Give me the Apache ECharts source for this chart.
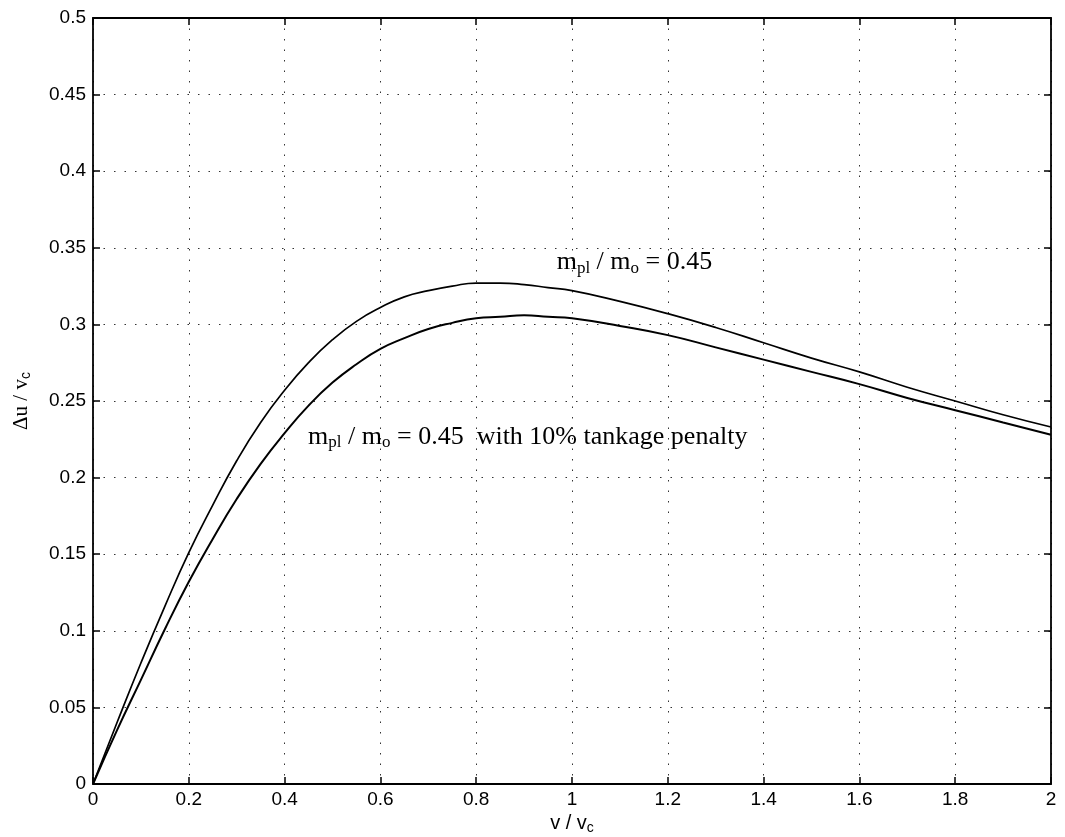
<!DOCTYPE html>
<html>
<head>
<meta charset="utf-8">
<script src="https://cdn.jsdelivr.net/npm/echarts@6/dist/echarts.min.js"></script>
<style>
  html, body { margin: 0; padding: 0; background: #fff; }
  #chart { width: 1065px; height: 837px; }
</style>
</head>
<body>
<div id="chart"></div>
<script>
// v / vc sample points
const vRatio = [0, 0.05, 0.1, 0.15, 0.2, 0.25, 0.3, 0.35, 0.4, 0.45, 0.5, 0.55, 0.6, 0.65, 0.7, 0.75,
  0.8, 0.85, 0.9, 0.95, 1.0, 1.1, 1.2, 1.3, 1.4, 1.5, 1.6, 1.7, 1.8, 1.9, 2.0];

// Δu / vc, payload fraction 0.45
const duPayload = [0, 0.040, 0.079, 0.116, 0.151, 0.182, 0.211, 0.236, 0.257, 0.275, 0.290, 0.302,
  0.311, 0.318, 0.322, 0.325, 0.327, 0.327, 0.326, 0.324, 0.322, 0.315, 0.307, 0.298, 0.288,
  0.278, 0.269, 0.259, 0.250, 0.241, 0.233];

// Δu / vc, payload fraction 0.45 with 10% tankage penalty
const duTankage = [0, 0.035, 0.068, 0.101, 0.132, 0.160, 0.186, 0.209, 0.229, 0.247, 0.262, 0.274,
  0.284, 0.291, 0.297, 0.301, 0.304, 0.305, 0.306, 0.305, 0.304, 0.299, 0.293, 0.285, 0.277,
  0.269, 0.261, 0.252, 0.244, 0.236, 0.228];

const xTicks = [0, 0.2, 0.4, 0.6, 0.8, 1, 1.2, 1.4, 1.6, 1.8, 2];
const yTicks = [0, 0.05, 0.1, 0.15, 0.2, 0.25, 0.3, 0.35, 0.4, 0.45, 0.5];

const upperLabel = { x: 0.968, y: 0.338 };
const lowerLabel = { x: 0.449, y: 0.224 };

const pairs = (xs, ys) => xs.map((x, i) => [x, ys[i]]);

const sans = 'Liberation Sans, Arial, sans-serif';
const serif = 'Liberation Serif, Times New Roman, serif';

const gridDots = { show: true, lineStyle: { color: '#333', width: 1, type: [1.5, 9] } };
const frame = { show: true, onZero: false, lineStyle: { color: '#000', width: 1.8 } };
const tickIn = { show: true, inside: true, length: 7, lineStyle: { color: '#000', width: 1.5 } };

const chart = echarts.init(document.getElementById('chart'), null, { renderer: 'canvas' });

chart.setOption({
  backgroundColor: '#fff',
  animation: false,
  grid: { left: 93, right: 14, top: 18, bottom: 53, containLabel: false, outerBoundsMode: 'none' },
  xAxis: [{
    type: 'value', min: 0, max: 2, interval: 0.2,
    name: '{n|v / v}{s|c}', nameLocation: 'middle', nameGap: 26,
    nameTextStyle: {
      rich: {
        n: { fontFamily: sans, fontSize: 20, color: '#000' },
        s: { fontFamily: sans, fontSize: 14, color: '#000', padding: [9, 0, 0, 0] }
      }
    },
    axisLine: frame, axisTick: tickIn, splitLine: gridDots,
    axisLabel: {
      color: '#000', fontFamily: sans, fontSize: 19, margin: 6,
      formatter: v => String(+v.toFixed(2))
    }
  }, {
    type: 'value', min: 0, max: 2, interval: 0.2, position: 'top',
    axisLine: frame, axisTick: tickIn, splitLine: { show: false }, axisLabel: { show: false }
  }],
  yAxis: [{
    type: 'value', min: 0, max: 0.5, interval: 0.05,
    name: '{n|Δu / v}{s|c}', nameLocation: 'middle', nameGap: 60, nameRotate: 90,
    nameTextStyle: {
      rich: {
        n: { fontFamily: serif, fontSize: 21, color: '#000' },
        s: { fontFamily: sans, fontSize: 14, color: '#000', padding: [10, 0, 0, 0] }
      }
    },
    axisLine: frame, axisTick: tickIn, splitLine: gridDots,
    axisLabel: {
      color: '#000', fontFamily: sans, fontSize: 19, margin: 7,
      formatter: v => String(+v.toFixed(2))
    }
  }, {
    type: 'value', min: 0, max: 0.5, interval: 0.05, position: 'right',
    axisLine: frame, axisTick: tickIn, splitLine: { show: false }, axisLabel: { show: false }
  }],
  series: [{
    name: 'm_pl / m_o = 0.45',
    type: 'line', smooth: true, showSymbol: false,
    data: pairs(vRatio, duPayload),
    lineStyle: { color: '#000', width: 1.7 }
  }, {
    name: 'm_pl / m_o = 0.45 with 10% tankage penalty',
    type: 'line', smooth: true, showSymbol: false,
    data: pairs(vRatio, duTankage),
    lineStyle: { color: '#000', width: 2 }
  }]
});

// Curve annotations placed in data coordinates
const richText = {
  t: { fontFamily: serif, fontSize: 26, fill: '#000' },
  s: { fontFamily: serif, fontSize: 17, fill: '#000', padding: [12, 0, 0, 0] }
};
const p1 = chart.convertToPixel({ gridIndex: 0 }, [upperLabel.x, upperLabel.y]);
const p2 = chart.convertToPixel({ gridIndex: 0 }, [lowerLabel.x, lowerLabel.y]);
chart.setOption({
  graphic: [{
    type: 'text', left: p1[0], top: p1[1] - 17,
    style: { text: '{t|m}{s|pl}{t| / m}{s|o}{t| = 0.45}', rich: richText }
  }, {
    type: 'text', left: p2[0], top: p2[1] - 17,
    style: { text: '{t|m}{s|pl}{t| / m}{s|o}{t| = 0.45  with 10% tankage penalty}', rich: richText }
  }]
});
</script>
</body>
</html>
